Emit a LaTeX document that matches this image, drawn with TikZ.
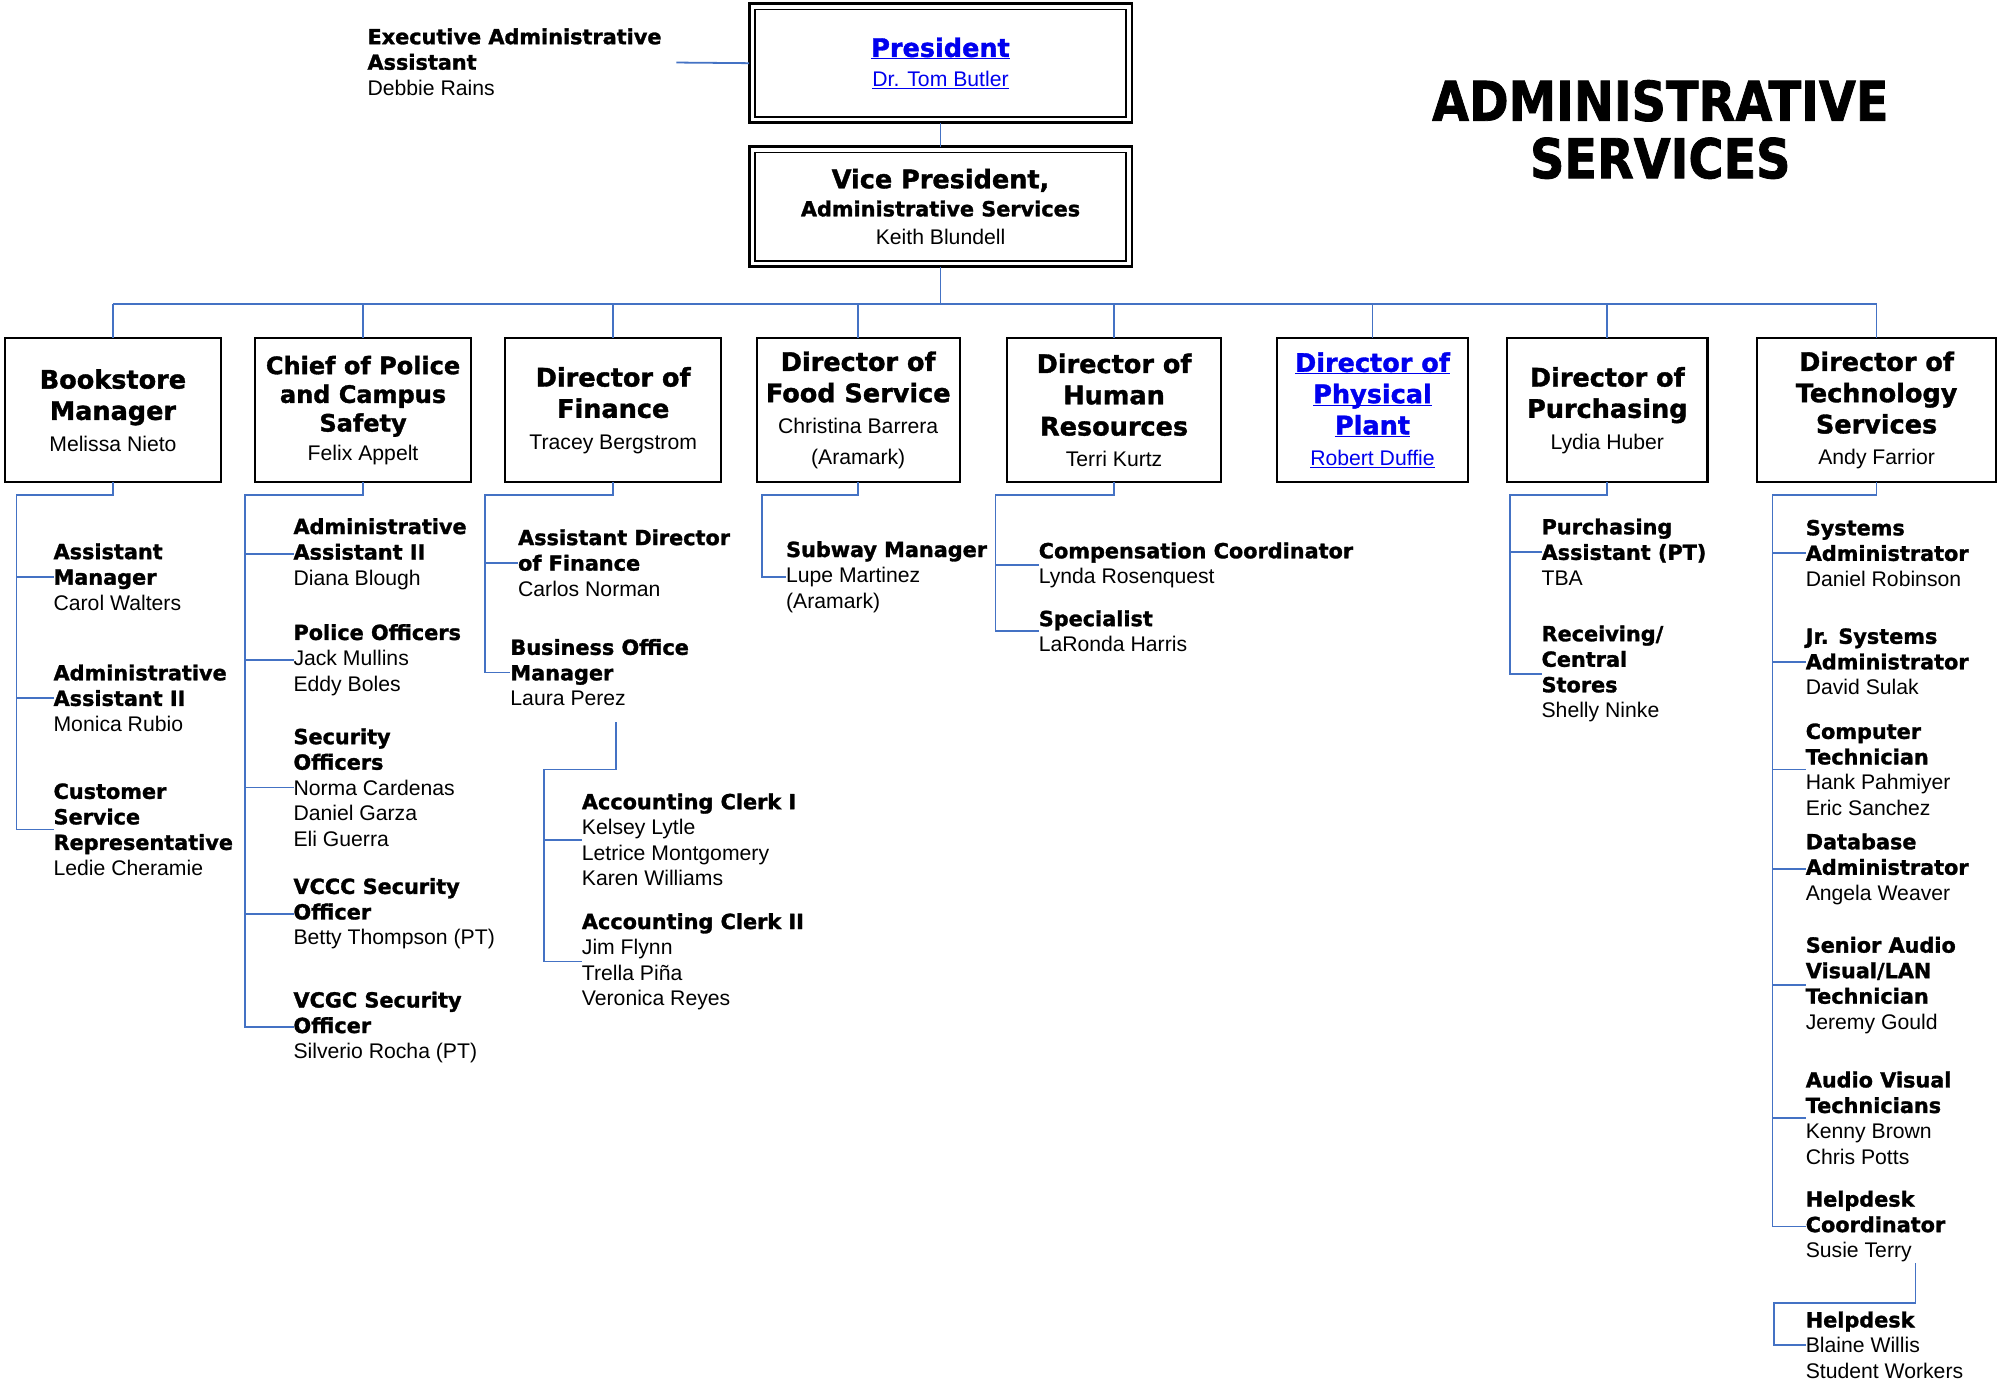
\documentclass[tikz,border=0pt]{standalone}
\usepackage{fontspec}
\setmainfont{Liberation Sans}
\newfontfamily\blk{DejaVu Sans}[BoldFeatures={FakeBold=1.4}]
\newfontfamily\ttl{DejaVu Sans}[FakeStretch=0.87,BoldFeatures={FakeBold=1.4}]
\usetikzlibrary{calc}
\definecolor{conncol}{RGB}{68,114,196}
\definecolor{linkcol}{RGB}{0,0,238}
\newcommand\bhead{\blk\bfseries\fontsize{20}{24.5}\selectfont}
\newcommand\bname{\normalfont\fontsize{16.6}{24.5}\selectfont}
\newcommand\chead{\blk\bfseries\fontsize{18.8}{23}\selectfont}
\newcommand\shead{\blk\bfseries\fontsize{16.3}{20}\selectfont}
\newcommand\sname{\normalfont\fontsize{16.6}{20}\selectfont}
\newcommand\lnk[1]{\underline{\raisebox{0pt}[\height][0pt]{#1}}}
\tikzset{
  conn/.style={draw=conncol, line width=1.4pt},
  topbox/.style={draw=black, line width=1.6pt, align=center, inner sep=0pt, outer sep=0pt,
    minimum height=113pt, font=\fontsize{20}{24.5}\selectfont},
  dbox/.style={draw=black, line width=2.2pt, align=center, inner sep=0pt, outer sep=0pt,
    minimum width=300pt},
  unit/.style={anchor=west, align=left, inner sep=0pt, outer sep=0pt,
    font=\fontsize{16.6}{20}\selectfont},
}
\begin{document}
\begin{tikzpicture}[x=1pt,y=-1pt]
\useasboundingbox[fill=white] (0,0) rectangle (1568,1085);

% title
\node[inner sep=0pt, align=center, font=\ttl\bfseries\fontsize{43}{45}\selectfont] (title) at (1301,101.5) {ADMINISTRATIVE\\SERVICES};

% president and VP
\node[dbox, minimum height=93pt, font=\fontsize{20}{23}\selectfont, text=linkcol] (pres) at (737,49.5)
  {\blk\bfseries\fontsize{20}{23}\selectfont\lnk{President}\\ \sname\lnk{Dr. Tom Butler}};
\draw[line width=1.2pt] ($(pres.north west)+(4.5,4.5)$) rectangle ($(pres.south east)+(-4.5,-4.5)$);
\node[dbox, minimum height=94pt, font=\fontsize{20}{22}\selectfont] (vp) at (737,162)
  {\blk\bfseries\fontsize{20}{22}\selectfont Vice President,\\ \blk\bfseries\fontsize{16.3}{22}\selectfont Administrative Services\\ \normalfont\fontsize{16.6}{22}\selectfont Keith Blundell};
\draw[line width=1.2pt] ($(vp.north west)+(4.5,4.5)$) rectangle ($(vp.south east)+(-4.5,-4.5)$);
\draw[conn] (pres.south) -- (vp.north);

% executive assistant
\node[unit] (ea) at (288,48.5) {\shead Executive Administrative\\ \shead Assistant\\ \sname Debbie Rains};
\coordinate (eaR) at (530,49);
\draw[conn] (eaR) -- (pres.west);

% top level boxes
\node[topbox, minimum width=169pt] (bk) at (88.5,321.5) {\bhead Bookstore\\ \bhead Manager\\ \bname Melissa Nieto};
\node[topbox, minimum width=169pt, font=\fontsize{20}{22.5}\selectfont] (cp) at (284.5,321.5) {\chead Chief of Police\\ \chead and Campus\\ \chead Safety\\ \sname Felix Appelt};
\node[topbox, minimum width=169pt] (fin) at (480.5,321.5) {\bhead Director of\\ \bhead Finance\\ \bname Tracey Bergstrom};
\node[topbox, minimum width=159pt] (food) at (672.5,321.5) {\bhead Director of\\ \bhead Food Service\\ \bname Christina Barrera\\ \bname (Aramark)};
\node[topbox, minimum width=168pt] (hr) at (873,321.5) {\bhead Director of\\ \bhead Human\\ \bhead Resources\\ \bname Terri Kurtz};
\node[topbox, minimum width=149pt, text=linkcol] (pp) at (1075.5,321.5) {\bhead\lnk{Director of}\\ \bhead\lnk{Physical}\\ \bhead\lnk{Plant}\\ \bname\lnk{Robert Duffie}};
\node[topbox, minimum width=157pt] (pur) at (1259.5,321.5) {\bhead Director of\\ \bhead Purchasing\\ \bname Lydia Huber};
\node[topbox, minimum width=187pt] (tech) at (1470.5,321.5) {\bhead Director of\\ \bhead Technology\\ \bhead Services\\ \bname Andy Farrior};

\coordinate (busY) at (737,238);
\draw[conn] (vp.south) -- (busY);
\draw[conn] (bk.north |- busY) -- (tech.north |- busY);
\foreach \n in {bk,cp,fin,food,hr,pp,pur,tech} \draw[conn] (\n.north) -- (\n.north |- busY);

% Bookstore
\node[unit] (bk1) at (42,452) {\shead Assistant\\ \shead Manager\\ \sname Carol Walters};
\node[unit] (bk2) at (42,547) {\shead Administrative\\ \shead Assistant II\\ \sname Monica Rubio};
\node[unit] (bk3) at (42,650) {\shead Customer\\ \shead Service\\ \shead Representative\\ \sname Ledie Cheramie};
\coordinate (bkS) at (13,388);
\draw[conn] (bk.south) |- (bkS) -- (bkS |- bk3.west) -- (bk3.west);
\foreach \m in {bk1,bk2} \draw[conn] (\m.west) -- (\m.west -| bkS);

% Chief of police
\node[unit] (cp1) at (230,434) {\shead Administrative\\ \shead Assistant II\\ \sname Diana Blough};
\node[unit] (cp2) at (230,517) {\shead Police Officers\\ \sname Jack Mullins\\ \sname Eddy Boles};
\node[unit] (cp3) at (230,617) {\shead Security\\ \shead Officers\\ \sname Norma Cardenas\\ \sname Daniel Garza\\ \sname Eli Guerra};
\node[unit] (cp4) at (230,716) {\shead VCCC Security\\ \shead Officer\\ \sname Betty Thompson (PT)};
\node[unit] (cp5) at (230,805) {\shead VCGC Security\\ \shead Officer\\ \sname Silverio Rocha (PT)};
\coordinate (cpS) at (192,388);
\draw[conn] (cp.south) |- (cpS) -- (cpS |- cp5.west) -- (cp5.west);
\foreach \m in {cp1,cp2,cp3,cp4} \draw[conn] (\m.west) -- (\m.west -| cpS);

% Finance
\node[unit] (fn1) at (406,441) {\shead Assistant Director\\ \shead of Finance\\ \sname Carlos Norman};
\node[unit] (fn2) at (400,527) {\shead Business Office\\ \shead Manager\\ \sname Laura Perez};
\coordinate (fnS) at (380,388);
\draw[conn] (fin.south) |- (fnS) -- (fnS |- fn2.west) -- (fn2.west);
\draw[conn] (fn1.west) -- (fn1.west -| fnS);
\node[unit] (ac1) at (456,658) {\shead Accounting Clerk I\\ \sname Kelsey Lytle\\ \sname Letrice Montgomery\\ \sname Karen Williams};
\node[unit] (ac2) at (456,753.5) {\shead Accounting Clerk II\\ \sname Jim Flynn\\ \sname Trella Piña\\ \sname Veronica Reyes};
\coordinate (fnD) at (483,566);
\coordinate (acS) at (426,603);
\draw[conn] (fnD) |- (acS) -- (acS |- ac2.west) -- (ac2.west);
\draw[conn] (ac1.west) -- (ac1.west -| acS);

% Food service
\node[unit] (fd1) at (616,452) {\shead Subway Manager\\ \sname Lupe Martinez\\ \sname (Aramark)};
\coordinate (fdS) at (597,388);
\draw[conn] (food.south) |- (fdS) -- (fdS |- fd1.west) -- (fd1.west);

% Human resources
\node[unit] (hr1) at (814,443) {\shead Compensation Coordinator\\ \sname Lynda Rosenquest};
\node[unit] (hr2) at (814,494.5) {\shead Specialist\\ \sname LaRonda Harris};
\coordinate (hrS) at (780,388);
\draw[conn] (hr.south) |- (hrS) -- (hrS |- hr2.west) -- (hr2.west);
\draw[conn] (hr1.west) -- (hr1.west -| hrS);

% Purchasing
\node[unit] (pu1) at (1208,432.5) {\shead Purchasing\\ \shead Assistant (PT)\\ \sname TBA};
\node[unit] (pu2) at (1208,528) {\shead Receiving/\\ \shead Central\\ \shead Stores\\ \sname Shelly Ninke};
\coordinate (puS) at (1183,388);
\draw[conn] (pur.south) |- (puS) -- (puS |- pu2.west) -- (pu2.west);
\draw[conn] (pu1.west) -- (pu1.west -| puS);

% Technology
\node[unit] (tc1) at (1415,433.5) {\shead Systems\\ \shead Administrator\\ \sname Daniel Robinson};
\node[unit] (tc2) at (1415,518.5) {\shead Jr. Systems\\ \shead Administrator\\ \sname David Sulak};
\node[unit] (tc3) at (1415,603) {\shead Computer\\ \shead Technician\\ \sname Hank Pahmiyer\\ \sname Eric Sanchez};
\node[unit] (tc4) at (1415,681) {\shead Database\\ \shead Administrator\\ \sname Angela Weaver};
\node[unit] (tc5) at (1415,772) {\shead Senior Audio\\ \shead Visual/LAN\\ \shead Technician\\ \sname Jeremy Gould};
\node[unit] (tc6) at (1415,876) {\shead Audio Visual\\ \shead Technicians\\ \sname Kenny Brown\\ \sname Chris Potts};
\node[unit] (tc7) at (1415,961) {\shead Helpdesk\\ \shead Coordinator\\ \sname Susie Terry};
\coordinate (tcS) at (1389,388);
\draw[conn] (tech.south) |- (tcS) -- (tcS |- tc7.west) -- (tc7.west);
\foreach \m in {tc1,tc2,tc3,tc4,tc5,tc6} \draw[conn] (\m.west) -- (\m.west -| tcS);
\node[unit] (tc8) at (1415,1054) {\shead Helpdesk\\ \sname Blaine Willis\\ \sname Student Workers};
\coordinate (hdD) at (1501,990);
\coordinate (hdS) at (1390,1021);
\draw[conn] (hdD) |- (hdS) -- (hdS |- tc8.west) -- (tc8.west);
\end{tikzpicture}
\end{document}
